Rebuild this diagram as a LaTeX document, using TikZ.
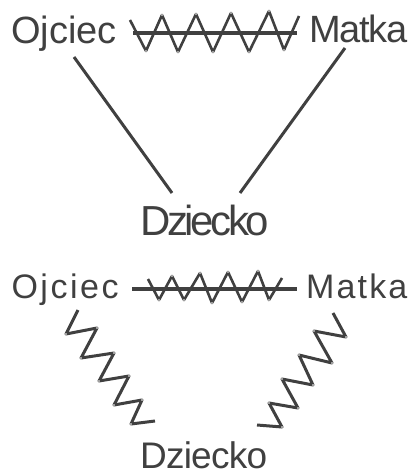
\documentclass[tikz,border=0pt]{standalone}
\usepackage{fontspec}
\setmainfont{Liberation Sans}
\definecolor{ink}{RGB}{64,64,64}
\tikzset{
  lbl/.style={anchor=base west, inner sep=0pt, outer sep=0pt, text=ink},
  wire/.style={draw=ink, line width=3pt},
  bar/.style={draw=ink, line width=3.2pt},
  zig/.style={draw=ink, line width=2.6pt, line join=round}
}
\newcommand{\jointdots}[1]{\foreach \p in {#1} {\fill[white] \p circle (0.9pt);}}
\begin{document}
\begin{tikzpicture}[x=1pt,y=-1pt]
\useasboundingbox (0,0) rectangle (413,473);
% ---------- top ----------
\node[lbl] (oj1) at (11,43.5) {\fontsize{38}{40}\selectfont Ojciec};
\node[lbl] (ma1) at (309,43) {\fontsize{38}{40}\selectfont\addfontfeatures{LetterSpace=-3}Matka};
\node[lbl] (dz1) at (140,235) {\fontsize{42}{44}\selectfont\addfontfeatures{LetterSpace=-8}Dziecko};
\coordinate (a1) at (74,57);
\coordinate (a2) at (172,193);
\coordinate (b1) at (345,48);
\coordinate (b2) at (240,193);
\draw[wire] (a1) -- (a2);
\draw[wire] (b1) -- (b2);
\coordinate (h1) at (133,33);
\coordinate (h2) at (297,33);
\draw[bar] (h1) -- (h2);
\draw[zig] (130,20) -- (146,51) -- (162,15) -- (178,52) -- (196,14) -- (213,52) -- (231,13) -- (249,52) -- (269,11) -- (284,50) -- (299,16);
\jointdots{(146,51),(162,15),(178,52),(196,14),(213,52),(231,13),(249,52),(269,11),(284,50)}
% ---------- bottom ----------
\node[lbl] (oj2) at (11.5,298.5) {\fontsize{34}{36}\selectfont\addfontfeatures{LetterSpace=7.5}Ojciec};
\node[lbl] (ma2) at (306,298.5) {\fontsize{34}{36}\selectfont\addfontfeatures{LetterSpace=6.5}Matka};
\node[lbl] (dz2) at (140,468.5) {\fontsize{37}{39}\selectfont\addfontfeatures{LetterSpace=-2}Dziecko};
\coordinate (g1) at (132,289);
\coordinate (g2) at (297,289);
\draw[bar] (g1) -- (g2);
\draw[zig] (148,279) -- (159,300) -- (172,276) -- (184,300) -- (200,273) -- (212,303) -- (228,272) -- (242,302) -- (258,271) -- (269,300) -- (282,278);
\jointdots{(159,300),(172,276),(184,300),(200,273),(212,303),(228,272),(242,302),(258,271),(269,300)}
\draw[zig, line width=3pt] (78,310) -- (66,334) -- (97,328) -- (81,358) -- (114,353) -- (99,381) -- (129,376) -- (114,405) -- (142,400) -- (131,424) -- (155,421);
\jointdots{(66,334),(97,328),(81,358),(114,353),(99,381),(129,376),(114,405),(142,400),(131,424)}
\draw[zig, line width=3pt] (333,313) -- (346,337) -- (314,331) -- (332,363) -- (299,355) -- (313,385) -- (282,379) -- (298,408) -- (269,403) -- (282,427) -- (257,425);
\jointdots{(346,337),(314,331),(332,363),(299,355),(313,385),(282,379),(298,408),(269,403),(282,427)}
\end{tikzpicture}
\end{document}
